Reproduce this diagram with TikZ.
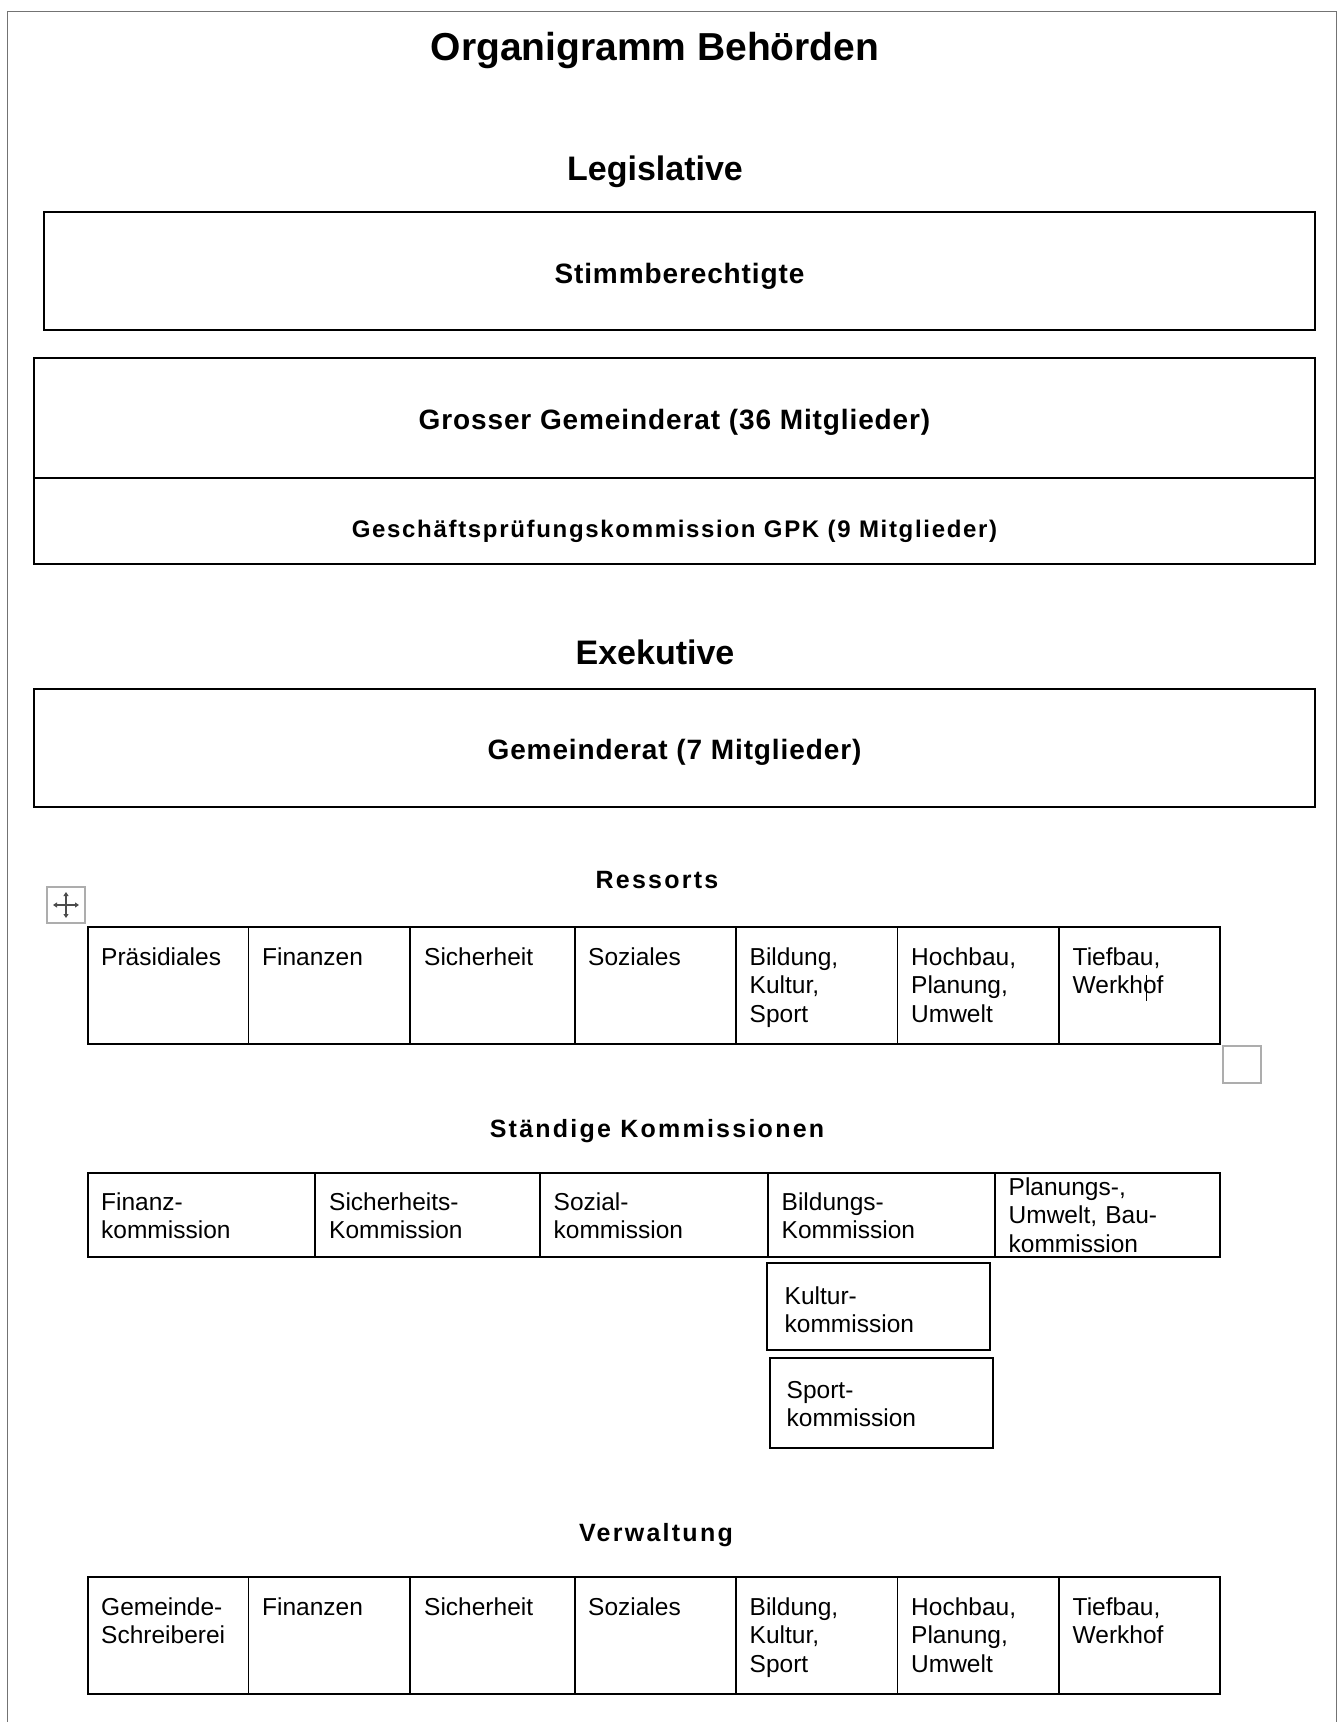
\documentclass[tikz,border=0pt]{standalone}
\usepackage{fontspec}
\setmainfont{Liberation Sans}
\usetikzlibrary{arrows.meta}
\definecolor{pagegray}{gray}{0.45}
\definecolor{handlegray}{gray}{0.68}
\definecolor{icongray}{gray}{0.3}
\newcommand\orgTitleFont{\fontsize{39pt}{45pt}\selectfont\bfseries}
\newcommand\orgHeadFont{\fontsize{34pt}{40pt}\selectfont\bfseries}
\newcommand\orgBoxFont{\fontsize{28pt}{33pt}\selectfont\bfseries\addfontfeature{LetterSpace=3.2}}
\newcommand\orgSubFont{\fontsize{25pt}{30pt}\selectfont\bfseries\addfontfeature{LetterSpace=9}}
\newcommand\orgGpkFont{\fontsize{24pt}{28pt}\selectfont\bfseries\addfontfeature{LetterSpace=7}}
\newcommand\orgCellFont{\fontsize{24.5pt}{28.5pt}\selectfont}
\begin{document}
\begin{tikzpicture}[x=1pt,y=-1pt,
  pageline/.style={draw=pagegray, line width=1pt},
  frame/.style={draw=black, line width=1.8pt},
  handle/.style={draw=handlegray, line width=1.5pt},
  titletext/.style={inner sep=0, anchor=base, font=\orgTitleFont},
  headtext/.style={inner sep=0, anchor=base, font=\orgHeadFont},
  boxtext/.style={inner sep=0, anchor=base, font=\orgBoxFont},
  subtext/.style={inner sep=0, anchor=base, font=\orgSubFont},
  gpktext/.style={inner sep=0, anchor=base, font=\orgGpkFont},
  celltext/.style={inner sep=0, anchor=base west, align=left, text width=200pt, font=\orgCellFont}
]
\useasboundingbox (0,0) rectangle (1339,1722);
\fill[white] (0,0) rectangle (1339,1722);

% page border (top, left, right)
\draw[pageline] (7,1722) -- (7,11) -- (1336,11) -- (1336,1722);

% headings
\node[titletext] (title) at (655,60) {Organigramm Behörden};
\node[headtext] (legis) at (655,180) {Legislative};
\node[headtext] (exek) at (655,664) {Exekutive};
\node[subtext] (ress) at (657,888) {Ressorts};
\node[subtext] (kommh) at (657,1137) {Ständige Kommissionen};
\node[subtext] (verw) at (656,1541) {Verwaltung};

% Legislative boxes
\draw[frame] (44,212) rectangle (1315,330);
\node[boxtext] (stimm) at (679.5,283) {Stimmberechtigte};
\draw[frame] (34,358) rectangle (1315,564);
\draw[frame] (34,478) -- (1315,478);
\node[boxtext] (ggr) at (674.5,429) {Grosser Gemeinderat (36 Mitglieder)};
\node[gpktext] (gpk) at (674.5,537) {Geschäftsprüfungskommission GPK (9 Mitglieder)};

% Exekutive box
\draw[frame] (34,689) rectangle (1315,807);
\node[boxtext] (gr) at (674.5,759) {Gemeinderat (7 Mitglieder)};

% Ressorts table
\draw[frame] (88,927) rectangle (1220.3,1044);
\foreach \x in {248.5,410,574.7,736,897.5,1059} \draw[frame] (\x,927) -- (\x,1044);
\node[celltext] (r1) at (101,965) {Präsidiales};
\node[celltext] (r2) at (262,965) {Finanzen};
\node[celltext] (r3) at (424,965) {Sicherheit};
\node[celltext] (r4) at (588,965) {Soziales};
\node[celltext] (r5) at (749.5,965) {Bildung,\\Kultur,\\Sport};
\node[celltext] (r6) at (911,965) {Hochbau,\\Planung,\\Umwelt};
\node[celltext] (r7) at (1072.5,965) {Tiefbau,\\Werkhof};
\draw[line width=1pt] (1146,975) -- (1146,1001);

% table handles
\draw[handle] (47,887) rectangle (85,923);
\coordinate (hc) at (66,905);
\draw[icongray, line width=1.4pt, {Triangle[length=4pt,width=5pt]}-{Triangle[length=4pt,width=5pt]}] ([xshift=-13pt]hc) -- ([xshift=13pt]hc);
\draw[icongray, line width=1.4pt, {Triangle[length=4pt,width=5pt]}-{Triangle[length=4pt,width=5pt]}] ([yshift=-13pt]hc) -- ([yshift=13pt]hc);
\draw[handle] (1223,1046) rectangle (1261,1083);

% Kommissionen table
\draw[frame] (88,1173) rectangle (1220.3,1257);
\foreach \x in {315,539.7,767.7,994.9} \draw[frame] (\x,1173) -- (\x,1257);
\node[celltext] (k1) at (101,1210) {Finanz-\\kommission};
\node[celltext] (k2) at (329,1210) {Sicherheits-\\Kommission};
\node[celltext] (k3) at (553.5,1210) {Sozial-\\kommission};
\node[celltext] (k4) at (781.5,1210) {Bildungs-\\Kommission};
\node[celltext] (k5) at (1008.5,1195) {Planungs-,\\Umwelt, Bau-\\kommission};

\draw[frame] (767,1263) rectangle (990,1350);
\node[celltext] (kultur) at (784.5,1304) {Kultur-\\kommission};
\draw[frame] (770,1358) rectangle (993,1448);
\node[celltext] (sport) at (786.5,1398) {Sport-\\kommission};

% Verwaltung table
\draw[frame] (88,1577) rectangle (1220.3,1694);
\foreach \x in {248.5,410,574.7,736,897.5,1059} \draw[frame] (\x,1577) -- (\x,1694);
\node[celltext] (v1) at (101,1615) {Gemeinde-\\Schreiberei};
\node[celltext] (v2) at (262,1615) {Finanzen};
\node[celltext] (v3) at (424,1615) {Sicherheit};
\node[celltext] (v4) at (588,1615) {Soziales};
\node[celltext] (v5) at (749.5,1615) {Bildung,\\Kultur,\\Sport};
\node[celltext] (v6) at (911,1615) {Hochbau,\\Planung,\\Umwelt};
\node[celltext] (v7) at (1072.5,1615) {Tiefbau,\\Werkhof};
\end{tikzpicture}
\end{document}
